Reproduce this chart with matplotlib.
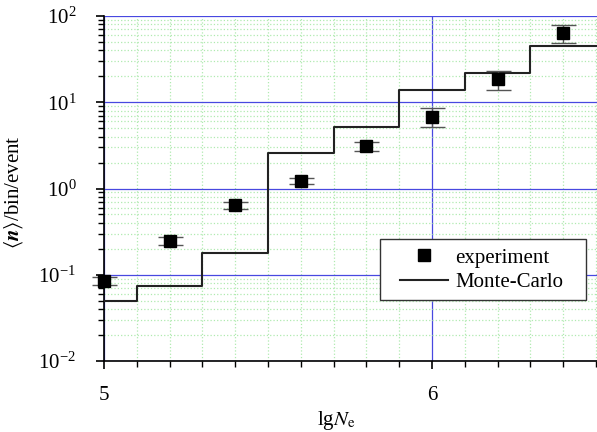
import matplotlib as mpl
mpl.use('Agg')
import matplotlib.pyplot as plt
from matplotlib.ticker import MultipleLocator, LogLocator, NullFormatter
from matplotlib.lines import Line2D
from matplotlib.patches import Rectangle
import numpy as np

plt.rcParams['font.family'] = ['Liberation Serif', 'DejaVu Serif']
plt.rcParams['mathtext.fontset'] = 'stix'

# experiment
exp_x = [5.0, 5.2, 5.4, 5.6, 5.8, 6.0, 6.2, 6.4]
exp_y = [0.085, 0.246, 0.64, 1.22, 3.1, 6.8, 18.6, 64.0]
exp_lo = [0.008, 0.025, 0.06, 0.1, 0.35, 1.6, 4.7, 15.0]
exp_hi = [0.008, 0.025, 0.06, 0.1, 0.35, 1.8, 4.4, 14.0]

# Monte-Carlo histogram (bin edges and values)
mc_edges = [5.0, 5.1, 5.3, 5.5, 5.7, 5.9, 6.1, 6.3, 6.5]
mc_vals = [0.05, 0.075, 0.177, 2.58, 5.2, 13.9, 22.0, 44.6]

fig = plt.figure(figsize=(5.97, 4.32), dpi=100)
ax = fig.add_axes([104/597, 1-361/432, 493/597, 345/432])

ax.set_yscale('log')
ax.set_xlim(5, 6.503)
ax.set_ylim(1e-2, 1e2)

ax.xaxis.set_major_locator(MultipleLocator(1))
ax.xaxis.set_minor_locator(MultipleLocator(0.1))
ax.yaxis.set_major_locator(LogLocator(base=10, numticks=10))
ax.yaxis.set_minor_locator(LogLocator(base=10, subs=np.arange(2, 10), numticks=20))
ax.yaxis.set_minor_formatter(NullFormatter())

ax.grid(which='minor', color='#b0eab0', linestyle=':', lw=0.9)
ax.grid(which='major', color='#4848e0', linestyle='-', lw=0.9)
ax.set_axisbelow(True)

for s in ['top', 'right']:
    ax.spines[s].set_visible(False)
ax.spines['left'].set_linewidth(1.2)
ax.spines['bottom'].set_linewidth(1.2)
ax.tick_params(which='major', direction='out', length=6, width=1.2, labelsize=15)
ax.tick_params(which='minor', direction='out', length=4, width=1.0)
ax.tick_params(axis='x', pad=12)
ax.tick_params(axis='y', pad=14)

# MC step line
mc_y = mc_vals + [mc_vals[-1]]
ax.step(mc_edges, mc_y, where='post', color='#222222', lw=1.5, zorder=3)

ax.errorbar(exp_x, exp_y, yerr=[exp_lo, exp_hi], fmt='s', color='black', ms=8,
            ecolor='#555555', elinewidth=1.0, capsize=9, capthick=1.0,
            zorder=4, clip_on=False)

# legend box drawn separately for a wider frame
box = Rectangle((276/493, 61/345), 206/493, 61/345, transform=ax.transAxes,
                facecolor='white', edgecolor='#333333', lw=1.0, zorder=5)
ax.add_patch(box)
handles = [Line2D([], [], marker='s', color='black', ms=8, ls='none'),
           Line2D([], [], color='#222222', lw=1.5)]
leg = ax.legend(handles, ['experiment', 'Monte-Carlo'], loc='upper left',
                bbox_to_anchor=(296/493, 113/345),
                fontsize=15, frameon=False,
                handlelength=2.3, handletextpad=0.35, borderpad=0, labelspacing=0.25,
                borderaxespad=0)
leg.set_zorder(6)

ax.set_xlabel(r'lg$N_{\rm e}$', fontsize=15)
ax.xaxis.set_label_coords(0.47, -0.14)
ax.set_ylabel(r'$\langle\boldsymbol{n}\rangle$/bin/event', fontsize=15)
ax.yaxis.set_label_coords(-0.16, 0.49)

plt.savefig('out.png', dpi=100)
plt.close()
